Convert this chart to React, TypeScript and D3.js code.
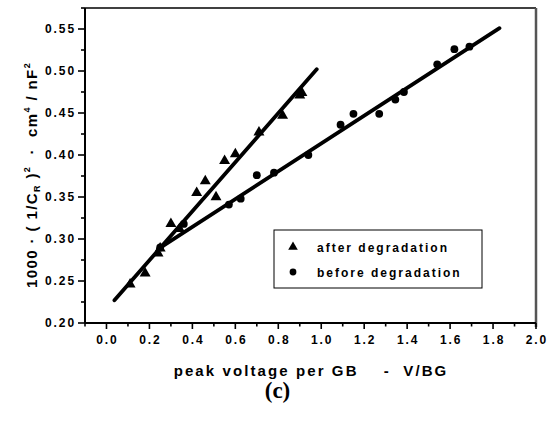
import React from "react";
import * as d3 from "d3";

// Measured points, after degradation (triangles)
const afterX = [0.11, 0.18, 0.24, 0.25, 0.30, 0.34, 0.42, 0.46, 0.51, 0.55, 0.60, 0.71, 0.82, 0.90, 0.91];
const afterY = [0.246, 0.259, 0.283, 0.289, 0.318, 0.312, 0.355, 0.369, 0.350, 0.393, 0.401, 0.427, 0.447, 0.471, 0.474];

// Measured points, before degradation (circles)
const beforeX = [0.25, 0.36, 0.57, 0.625, 0.70, 0.78, 0.94, 1.09, 1.15, 1.27, 1.345, 1.385, 1.54, 1.62, 1.69];
const beforeY = [0.290, 0.318, 0.341, 0.348, 0.376, 0.379, 0.400, 0.436, 0.449, 0.449, 0.466, 0.475, 0.508, 0.526, 0.529];

// Linear fits: [intercept, slope, xStart, xEnd]
const afterFit = [0.2163, 0.2919, 0.037, 0.979];
const beforeFit = [0.2483, 0.1654, 0.24, 1.83];

const xTicks = [0.0, 0.2, 0.4, 0.6, 0.8, 1.0, 1.2, 1.4, 1.6, 1.8, 2.0];
const yTicks = [0.20, 0.25, 0.30, 0.35, 0.40, 0.45, 0.50, 0.55];
const legendLabels = ["after degradation", "before degradation"];

const W = 551;
const H = 423;
const left = 85;
const right = 536;
const top = 8;
const bottom = 323;

const FONT = "'Liberation Sans', Arial, Helvetica, sans-serif";

export default function App() {
  const x = d3.scaleLinear().domain([-0.1, 2.0]).range([left, right]);
  const y = d3.scaleLinear().domain([0.2, 0.575]).range([bottom, top]);

  const xMinor = d3.range(-0.1, 2.0001, 0.1).filter(
    (v) => !xTicks.some((t) => Math.abs(t - v) < 1e-6)
  );
  const yMinor = d3.range(0.2, 0.5751, 0.025).filter(
    (v) => !yTicks.some((t) => Math.abs(t - v) < 1e-6)
  );

  const fitPath = (f: number[]) =>
    d3.line<[number, number]>()
      .x((p) => x(p[0]))
      .y((p) => y(p[1]))([
      [f[2], f[0] + f[1] * f[2]],
      [f[3], f[0] + f[1] * f[3]],
    ]) as string;

  const tri = d3.symbol().type(d3.symbolTriangle).size(52)() as string;
  const legTri = d3.symbol().type(d3.symbolTriangle).size(40)() as string;

  const tickStyle = {
    fontFamily: FONT,
    fontWeight: 700,
    fontSize: 12,
    letterSpacing: "1.9px",
  } as React.CSSProperties;

  const legendStyle = { ...tickStyle, letterSpacing: "2px" } as React.CSSProperties;

  const titleStyle = {
    fontFamily: FONT,
    fontWeight: 700,
    fontSize: 15,
    letterSpacing: "2.1px",
  } as React.CSSProperties;

  return (
    <svg
      width={W}
      height={H}
      style={{ position: "absolute", left: 0, top: 0, background: "#fff" }}
    >
      <rect x={0} y={0} width={W} height={H} fill="#fff" />

      {/* frame */}
      <line x1={left} y1={top} x2={right} y2={top} stroke="#000" strokeWidth={1.5} />
      <line x1={right} y1={top} x2={right} y2={bottom + 4} stroke="#555" strokeWidth={2.5} />
      <line x1={left} y1={top} x2={left} y2={bottom} stroke="#000" strokeWidth={2} />
      <line x1={left} y1={bottom} x2={right} y2={bottom} stroke="#000" strokeWidth={2} />

      {/* x ticks */}
      {xTicks.map((t) => (
        <g key={"xt" + t}>
          <line x1={x(t)} x2={x(t)} y1={bottom} y2={bottom + 6} stroke="#000" strokeWidth={1.6} />
          <text x={x(t) + 1} y={344} textAnchor="middle" style={tickStyle}>
            {t.toFixed(1)}
          </text>
        </g>
      ))}
      {xMinor.map((t) => (
        <line key={"xm" + t} x1={x(t)} x2={x(t)} y1={bottom} y2={bottom + 3.5} stroke="#000" strokeWidth={1.6} />
      ))}

      {/* y ticks */}
      {yTicks.map((t) => (
        <g key={"yt" + t}>
          <line x1={left - 7} x2={left} y1={y(t)} y2={y(t)} stroke="#000" strokeWidth={1.6} />
          <text x={76} y={y(t) + 4.2} textAnchor="end" style={tickStyle}>
            {t.toFixed(2)}
          </text>
        </g>
      ))}
      {yMinor.map((t) => (
        <line key={"ym" + t} x1={left - 4} x2={left} y1={y(t)} y2={y(t)} stroke="#000" strokeWidth={1.6} />
      ))}

      {/* fit lines */}
      <path d={fitPath(afterFit)} stroke="#000" strokeWidth={3.8} fill="none" strokeLinecap="round" />
      <path d={fitPath(beforeFit)} stroke="#000" strokeWidth={3.8} fill="none" strokeLinecap="round" />

      {/* points */}
      {afterX.map((v, i) => (
        <path key={"a" + i} d={tri} transform={`translate(${x(v)},${y(afterY[i])})`} fill="#000" />
      ))}
      {beforeX.map((v, i) => (
        <circle key={"b" + i} cx={x(v)} cy={y(beforeY[i])} r={3.9} fill="#000" />
      ))}

      {/* legend */}
      <rect x={274} y={230} width={208} height={58} fill="#fff" stroke="#000" strokeWidth={1} />
      <path d={legTri} transform="translate(293,247)" fill="#000" />
      <circle cx={293} cy={272} r={3.4} fill="#000" />
      <text x={317} y={252} style={legendStyle}>{legendLabels[0]}</text>
      <text x={317} y={277} style={legendStyle}>{legendLabels[1]}</text>

      {/* axis titles */}
      <text x={311} y={376} textAnchor="middle" style={titleStyle} xmlSpace="preserve">
        {"peak voltage per GB    -  V/BG"}
      </text>
      <text
        transform="translate(37,175) rotate(-90)"
        textAnchor="middle"
        style={{ ...titleStyle, letterSpacing: "1.4px" }}
        xmlSpace="preserve"
      >
        <tspan>{"1000 · ( 1/C"}</tspan>
        <tspan fontSize={9} dy={3}>R</tspan>
        <tspan dy={-3}>{" )"}</tspan>
        <tspan fontSize={9} dy={-7}>2</tspan>
        <tspan dy={7}>{"  ·  cm"}</tspan>
        <tspan fontSize={9} dy={-7}>4</tspan>
        <tspan dy={7}>{" / nF"}</tspan>
        <tspan fontSize={9} dy={-7}>2</tspan>
      </text>

      <text
        x={277.5}
        y={398}
        textAnchor="middle"
        style={{ fontFamily: "'Liberation Serif', 'Times New Roman', serif", fontWeight: 700, fontSize: 23 }}
      >
        (c)
      </text>
    </svg>
  );
}
